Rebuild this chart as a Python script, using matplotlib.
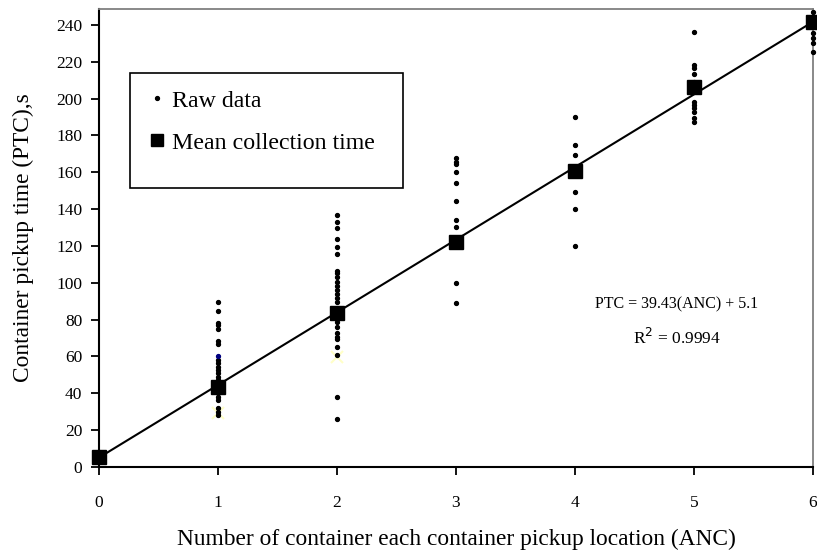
import matplotlib
matplotlib.use("Agg")
import matplotlib.pyplot as plt
from matplotlib.lines import Line2D
from matplotlib.patches import Rectangle

plt.rcParams['font.family'] = ['Liberation Serif', 'DejaVu Serif']

# Raw data (ANC, PTC)
raw_x0 = [0, 0, 0]
raw_y0 = [4, 6, 8]
raw_x1 = [1] * 21
raw_y1 = [89.4, 84.9, 78.3, 77.1, 75.1, 68.6, 66.8, 58.1, 56.3, 54.5, 52.7,
          50.9, 49.0, 47.2, 40.2, 38.2, 36.4, 31.9, 30.0, 28.2, 45.0]
raw_x2 = [2] * 25
raw_y2 = [136.8, 133.2, 129.6, 123.8, 119.6, 115.6, 106.4, 105.2, 103.0, 100.6,
          98.3, 96.1, 93.8, 91.6, 89.8, 80.7, 78.9, 76.2, 72.6, 70.8, 69.3,
          65.3, 60.8, 38.2, 26.1]
raw_x3 = [3] * 10
raw_y3 = [167.6, 165.8, 164.5, 160.0, 154.3, 144.6, 134.1, 130.5, 100.1, 89.2]
raw_x4 = [4] * 6
raw_y4 = [190.0, 174.8, 169.4, 149.5, 140.0, 120.2]
raw_x5 = [5] * 11
raw_y5 = [236.0, 218.2, 216.4, 213.2, 209.0, 198.3, 196.5, 194.7, 192.9, 189.3, 187.4]
raw_x6 = [6] * 5
raw_y6 = [247.0, 235.4, 232.7, 230.0, 225.0]

# Highlighted points
blue_x = [1]
blue_y = [60.3]
faint_x = [1, 2]
faint_y = [29.3, 59.9]

# Mean collection time
mean_x = [0, 1, 2, 3, 4, 5, 6]
mean_y = [5.5, 43.6, 83.4, 122.3, 160.5, 206.0, 241.8]

# Fit line
slope = 39.43
intercept = 5.1
fit_x = [0, 6]

xticks = [0, 1, 2, 3, 4, 5, 6]
yticks = list(range(0, 241, 20))

fig = plt.figure(figsize=(8.17, 5.56), dpi=100)
ax = fig.add_axes([99/817, 1 - 467/556, (813-99)/817, (467-9)/556])

fit_y = [slope * v + intercept for v in fit_x]
ax.plot(fit_x, fit_y, color='black', lw=1.5, zorder=2, clip_on=False)

all_rx = raw_x0 + raw_x1 + raw_x2 + raw_x3 + raw_x4 + raw_x5 + raw_x6
all_ry = raw_y0 + raw_y1 + raw_y2 + raw_y3 + raw_y4 + raw_y5 + raw_y6
ax.plot(all_rx, all_ry, ls='none', marker='o', ms=2.8, color='black',
        zorder=3, clip_on=False)
ax.plot(blue_x, blue_y, ls='none', marker='o', ms=2.8, color='#000080',
        zorder=3, clip_on=False)
ax.plot(faint_x, faint_y, ls='none', marker='x', ms=8, mew=1.5,
        color='#ffffc8', zorder=2.5, clip_on=False)
ax.plot(mean_x, mean_y, ls='none', marker='s', ms=9.5, color='black',
        zorder=4, clip_on=False)

ax.set_xlim(0, 6)
ax.set_ylim(0, 248.6)
ax.set_xticks(xticks)
ax.set_yticks(yticks)
ax.tick_params(axis='both', direction='out', length=6, width=1.3,
               labelsize=12.5, color='black')
ax.tick_params(axis='x', pad=14)
ax.tick_params(axis='y', pad=6)

ax.spines['left'].set_color('black')
ax.spines['left'].set_linewidth(1.5)
ax.spines['bottom'].set_color('black')
ax.spines['bottom'].set_linewidth(1.5)
ax.spines['top'].set_color('#808080')
ax.spines['top'].set_linewidth(1.3)
ax.spines['right'].set_color('#808080')
ax.spines['right'].set_linewidth(1.3)

ax.set_xlabel('Number of container each container pickup location (ANC)',
              fontsize=16.8, labelpad=13)
ax.set_ylabel('Container pickup time (PTC),s', fontsize=16.8, labelpad=16)

ax.text(4.857, 88, 'PTC = 39.43(ANC) + 5.1', fontsize=11.5, ha='center', va='center')
ax.text(4.857, 70, 'R$^2$ = 0.9994', fontsize=12.5, ha='center', va='center')

# legend box
ax.add_patch(Rectangle(((130-99)/714, (467-188)/458), 273/714, 115/458,
                       transform=ax.transAxes, fill=True, facecolor='white',
                       edgecolor='black', lw=1.2, zorder=5, clip_on=False))
handles = [
    Line2D([], [], ls='none', marker='o', ms=2.8, color='black'),
    Line2D([], [], ls='none', marker='s', ms=8, color='black'),
]
leg = ax.legend(handles, ['Raw data', 'Mean collection time'],
                loc='upper left', bbox_to_anchor=((150-99)/714, (467-90)/458),
                fontsize=17.2, frameon=False,
                handlelength=0.6, handletextpad=0.3, borderpad=0,
                labelspacing=0.85, borderaxespad=0)
leg.set_zorder(6)

fig.savefig('out.png', dpi=100)
